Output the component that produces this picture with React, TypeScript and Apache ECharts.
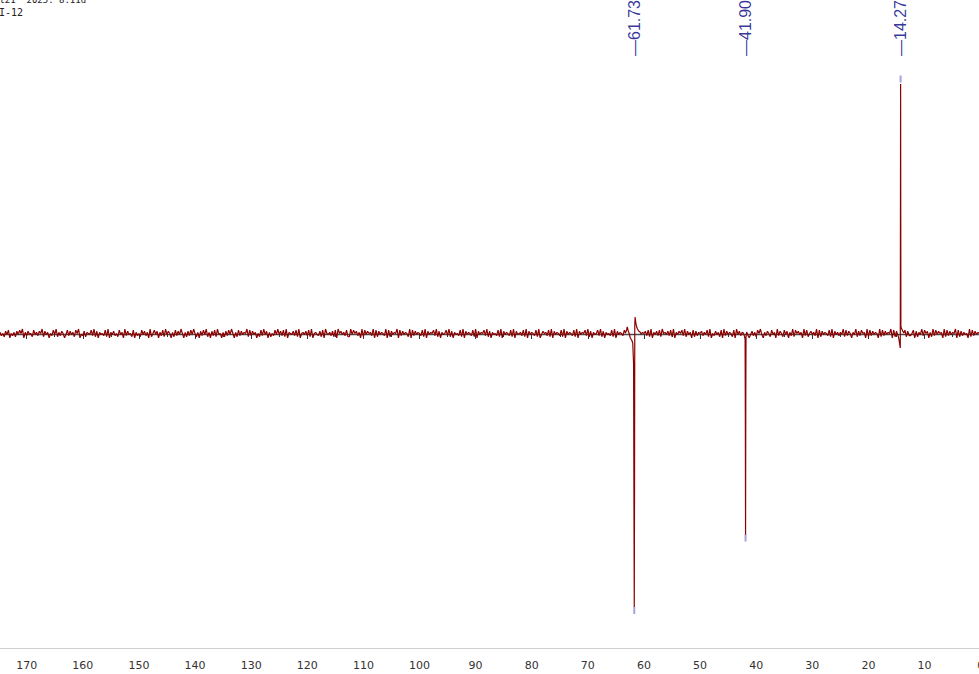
import React, { useEffect, useRef } from "react";
import * as echarts from "echarts";

// Axis range (ppm), reversed as in NMR plots
const AXIS_MIN_PPM = 0;
const AXIS_MAX_PPM = 175;
const TICK_INTERVAL = 10;

// Baseline noise, sampled every 0.25 ppm from 175 ppm down (digit 0..9 -> offset)
const NOISE_START_PPM = 175;
const NOISE_STEP_PPM = 0.25;
const noiseDigits =
  "46352748153627485916374528463759274615384926375148" +
  "37462859143726548392716453829164735284619374528163" +
  "52847361925847163829475162837495162738495261738492" +
  "61738294516273849516283746592837461528394716253849" +
  "47382916547382915647382915643728195463728195746382" +
  "29485736192847563918274653918274659183746529183746" +
  "53829174658392716458392716453829174653829174658392" +
  "71645382917465382917456382917465382914756382917465" +
  "38291746538291746583927164583927164538291746538291" +
  "46372819465738291647382956473829164758392746182736" +
  "57364829153746281937465281947362859147362859416375" +
  "28461937528471639285746193825746391827465382917463" +
  "64928375164927385619283746519283746591827364518273" +
  "35817264938571629384756192837465918273645192837465" +
  "73645182937465182937465819273645918273645182937461";

// Peak shapes [ppm, intensity]
const peak61 = [
  [63.3, 1], [63.1, 4], [62.98, 7], [62.8, 3], [62.6, 0], [62.44, -4], [62.2, -6],
  [62.0, -9], [61.85, -30], [61.78, -180], [61.73, -273], [61.68, -150],
  [61.64, 8], [61.58, 17], [61.45, 11], [61.3, 7], [61.15, 5], [60.95, 3], [60.7, 2], [60.5, 0],
];
const peak41 = [
  [42.3, 1], [42.1, -2], [41.98, -5], [41.94, -80], [41.9, -201], [41.86, -70],
  [41.82, -3], [41.7, 2], [41.5, -1],
];
const peak14 = [
  [14.9, 1], [14.7, -2], [14.55, -6], [14.42, -11], [14.33, -14],
  [14.27, 250], [14.22, 8], [14.15, 6], [14.05, 5], [13.9, 3], [13.7, 1],
];

// Peak annotations
const peakLabels = ["61.73", "41.90", "14.27"];
const peakPpm = [61.73, 41.9, 14.27];
const peakMarkValue = [-276.5, -204, 255];
const LABEL_CENTER_VALUE = 306;

// Vertical value range (baseline = 0)
const Y_MIN = -319;
const Y_MAX = 334;

export default function App() {
  const ref = useRef<HTMLDivElement>(null);

  useEffect(() => {
    if (!ref.current) return;
    const chart = echarts.init(ref.current, undefined, { renderer: "svg" });

    const features = [peak61, peak41, peak14];
    const windows = features.map((f) => [f[f.length - 1][0], f[0][0]]);
    const pts: number[][] = [];
    for (let i = 0; i < noiseDigits.length; i++) {
      const ppm = NOISE_START_PPM - i * NOISE_STEP_PPM;
      if (ppm < AXIS_MIN_PPM - 0.5) break;
      const inside = windows.some(([lo, hi]) => ppm >= lo && ppm <= hi);
      if (inside) continue;
      pts.push([ppm, (Number(noiseDigits[i]) - 4.5) * 1.1]);
    }
    features.forEach((f) => f.forEach((p) => pts.push([p[0], p[1]])));
    pts.sort((a, b) => b[0] - a[0]);

    chart.setOption({
      animation: false,
      grid: {
        left: -1.4, right: -1.7, top: 0, bottom: 21,
        containLabel: false, outerBoundsMode: "none",
      },
      xAxis: {
        type: "value",
        inverse: true,
        min: AXIS_MIN_PPM,
        max: AXIS_MAX_PPM,
        interval: TICK_INTERVAL,
        name: "(ppm)",
        nameLocation: "middle",
        nameGap: 22,
        nameTextStyle: { fontSize: 11, color: "#333", fontFamily: "DejaVu Sans" },
        axisLine: { show: true, lineStyle: { color: "#4a4a4a", width: 1.3 } },
        axisTick: { show: true, length: 5, lineStyle: { color: "#333" } },
        minorTick: { show: true, splitNumber: 2, length: 3, lineStyle: { color: "#333" } },
        splitLine: { show: false },
        axisLabel: {
          show: true, margin: 7, fontSize: 11, color: "#333",
          fontFamily: "DejaVu Sans", showMaxLabel: false,
        },
      },
      yAxis: { type: "value", min: Y_MIN, max: Y_MAX, show: false },
      graphic: [
        { type: "line", shape: { x1: 0, y1: 648.5, x2: 979, y2: 648.5 }, style: { stroke: "#cfcfcf", lineWidth: 1 } },
        { type: "text", x: -6, y: -5, style: { text: "Ct21  2025. 8.11d", fontSize: 9, fontFamily: "DejaVu Sans Mono", fill: "#222" } },
        { type: "text", x: -1, y: 7, style: { text: "I-12", fontSize: 10, fontFamily: "DejaVu Sans Mono", fill: "#222" } },
      ],
      series: [
        {
          type: "line", data: pts, showSymbol: false, symbol: "none",
          lineStyle: { color: "#8b0000", width: 1.2 }, silent: true, z: 3,
        },
        {
          type: "scatter", data: peakPpm.map((p, i) => [p, peakMarkValue[i]]),
          symbol: "rect", symbolSize: [2, 7], itemStyle: { color: "#8c8cdc" }, silent: true, z: 4,
        },
        {
          type: "scatter", data: peakPpm.map((p) => [p, LABEL_CENTER_VALUE]), symbolSize: 0, silent: true,
          label: {
            show: true, position: "inside", rotate: 90, align: "center", verticalAlign: "middle",
            fontSize: 16, fontFamily: "Liberation Sans", color: "#000080",
            formatter: (p: any) => "\u2014" + peakLabels[p.dataIndex],
          },
          z: 5,
        },
      ],
    });

    return () => chart.dispose();
  }, []);

  return (
    <div ref={ref} style={{ width: 979, height: 674, position: "absolute", left: 0, top: 0 }} />
  );
}
